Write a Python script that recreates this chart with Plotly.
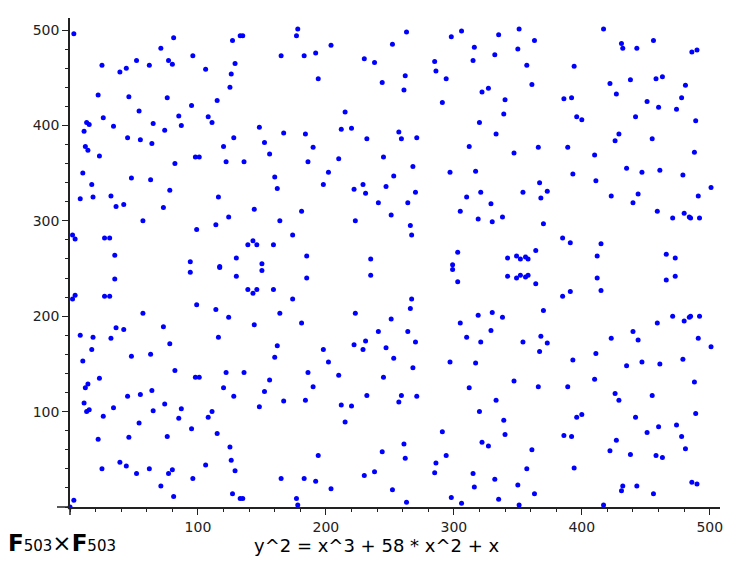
import plotly.graph_objects as go

# points, grouped by x band; upper/lower halves listed separately
x_left = [3, 81, 127, 133, 135, 71, 165, 25, 39, 44, 52, 62, 77, 80, 96, 106, 129, 126, 125, 22,
          46, 76, 95, 115, 54, 26, 85, 108, 13, 15, 11, 34, 65, 87, 111, 74, 148, 45, 55, 64,
          128, 152, 12, 14, 120, 156, 23, 98, 101, 82, 122, 136, 10, 48, 63, 160, 17, 78, 8, 18,
          32, 36, 42, 73, 116, 162, 144, 124, 57, 114, 164, 99, 2, 4, 27, 31, 139, 143, 146, 159,
          35, 130, 150, 94, 117]
y_left_upper = [496, 492, 489, 494, 494, 481, 473, 463, 456, 460, 468, 463, 468, 464, 473, 459, 465, 454, 440, 432,
                430, 429, 421, 426, 415, 408, 410, 409, 403, 401, 394, 399, 402, 400, 403, 395, 398, 387, 385, 381,
                387, 382, 378, 374, 378, 370, 368, 367, 367, 360, 362, 362, 350, 345, 343, 346, 338, 332, 323, 325,
                326, 315, 317, 314, 325, 334, 312, 304, 300, 296, 300, 291, 285, 281, 282, 282, 275, 279, 275, 275,
                264, 261, 255, 257, 252]
y_left_lower = [7, 11, 14, 9, 9, 22, 30, 40, 47, 43, 35, 40, 35, 39, 30, 44, 38, 49, 63, 71,
                73, 74, 82, 77, 88, 95, 93, 94, 100, 102, 109, 104, 101, 103, 100, 108, 105, 116, 118, 122,
                116, 121, 125, 129, 125, 133, 135, 136, 136, 143, 141, 141, 153, 158, 160, 157, 165, 171, 180, 178,
                177, 188, 186, 189, 178, 169, 191, 199, 203, 207, 203, 212, 218, 222, 221, 221, 228, 224, 228, 228,
                239, 242, 248, 246, 251]

x_mid = [178, 177, 263, 204, 183, 192, 252, 230, 238, 194, 244, 262, 261, 298, 306, 316, 315, 285, 286, 294,
         327, 322, 291, 215, 320, 167, 184, 212, 220, 232, 257, 259, 271, 190, 186, 210, 245, 202, 268, 253,
         312, 297, 317, 198, 229, 247, 222, 231, 270, 241, 264, 181, 251, 223, 266, 267, 174, 310, 321, 329,
         305, 319, 330, 185, 235, 303, 299]
y_mid_upper = [501, 494, 498, 484, 473, 476, 485, 470, 466, 449, 445, 452, 437, 493, 499, 482, 468, 467, 457, 449,
               439, 435, 424, 414, 403, 392, 391, 396, 397, 386, 393, 386, 387, 377, 362, 365, 367, 351, 357, 347,
               378, 351, 352, 338, 338, 336, 333, 329, 330, 319, 319, 310, 306, 300, 295, 285, 285, 325, 330, 318,
               310, 302, 299, 263, 260, 267, 254]
y_mid_lower = [2, 9, 5, 19, 30, 27, 18, 33, 37, 54, 58, 51, 66, 10, 4, 21, 35, 36, 46, 54,
               64, 68, 79, 89, 100, 111, 112, 107, 106, 117, 110, 117, 116, 126, 141, 138, 136, 152, 146, 156,
               125, 152, 151, 165, 165, 167, 170, 174, 173, 184, 184, 193, 197, 203, 208, 218, 218, 178, 173, 185,
               193, 201, 204, 240, 243, 236, 249]

x_right = [335, 351, 363, 350, 332, 357, 394, 417, 431, 432, 443, 456, 486, 490, 361, 340, 339, 333, 386, 392,
           396, 400, 422, 427, 438, 458, 463, 481, 478, 451, 460, 474, 442, 489, 429, 426, 455, 347, 366, 389,
           410, 488, 435, 447, 461, 479, 393, 367, 411, 501, 354, 368, 373, 423, 444, 440, 491, 338, 370, 459,
           471, 480, 484, 485, 492, 385, 391, 415, 412, 364, 342, 349, 352, 356, 358, 466, 473]
y_right_upper = [495, 501, 489, 480, 474, 463, 462, 501, 486, 481, 481, 489, 477, 479, 443, 427, 412, 391, 428, 429,
                 409, 406, 444, 433, 448, 449, 451, 442, 429, 425, 419, 417, 409, 405, 391, 384, 386, 371, 377, 377,
                 369, 372, 355, 351, 353, 348, 349, 340, 342, 335, 330, 324, 331, 326, 328, 319, 326, 304, 297, 310,
                 303, 308, 304, 303, 303, 282, 277, 276, 263, 269, 261, 263, 260, 262, 260, 265, 261]
y_right_lower = [8, 2, 14, 23, 29, 40, 41, 2, 17, 22, 22, 14, 26, 24, 60, 76, 91, 112, 75, 74,
                 94, 97, 59, 70, 55, 54, 52, 61, 74, 78, 84, 86, 94, 98, 112, 119, 117, 132, 126, 126,
                 134, 131, 148, 152, 150, 155, 154, 163, 161, 168, 173, 179, 172, 177, 175, 184, 177, 199, 206, 193,
                 200, 195, 199, 200, 200, 221, 226, 227, 240, 234, 242, 240, 243, 241, 243, 238, 242]

x_origin = [0]
y_origin = [0]

tick_vals = [100, 200, 300, 400, 500]

xs = x_origin + x_left + x_left + x_mid + x_mid + x_right + x_right
ys = (y_origin + y_left_upper + y_left_lower + y_mid_upper + y_mid_lower
      + y_right_upper + y_right_lower)

FONT = 'DejaVu Sans'

fig = go.Figure(go.Scatter(
    x=xs, y=ys, mode='markers',
    marker=dict(color='#0000ff', size=5, line=dict(width=0)),
    cliponaxis=False, showlegend=False, hoverinfo='x+y'
))

axis_style = dict(
    showgrid=False, zeroline=False,
    showline=True, linecolor='#222222', linewidth=1.5,
    ticks='outside', ticklen=6, tickwidth=1, tickcolor='#222222',
    tickvals=tick_vals,
    minor=dict(ticks='outside', ticklen=3, tickwidth=1, tickcolor='#222222', tick0=0, dtick=20),
    tickfont=dict(family=FONT, size=14, color='#222222'),
)

# the page body adds an 8px offset, so the figure is 8px smaller and margins shifted
fig.update_layout(
    width=742, height=553,
    margin=dict(l=62, r=30, t=10, b=54),
    plot_bgcolor='white', paper_bgcolor='white',
    xaxis=dict(range=[0, 508], **axis_style),
    yaxis=dict(range=[0, 512.6], **axis_style),
    font=dict(family=FONT, color='black'),
)

# short stubs of the axes past the origin, as in the original
fig.add_shape(type='line', xref='paper', yref='paper', x0=-13/650, x1=0, y0=0, y1=0,
              line=dict(color='#222222', width=1.5))
fig.add_shape(type='line', xref='paper', yref='paper', x0=0, x1=0, y0=-8/489, y1=0,
              line=dict(color='#222222', width=1.5))

# positions below are page pixels: plot area spans x 70..720, y 18..507
fig.add_annotation(
    text="<b>F</b><span style='font-size:15px'>503</span>×<b>F</b><span style='font-size:15px'>503</span>",
    xref='paper', yref='paper', x=(6 - 70) / 650, y=(507 - 543) / 489,
    xanchor='left', yanchor='middle', showarrow=False,
    font=dict(family=FONT, size=23, color='black')
)
fig.add_annotation(
    text='y^2 = x^3 + 58 * x^2 + x',
    xref='paper', yref='paper', x=(376 - 70) / 650, y=(507 - 545) / 489,
    xanchor='center', yanchor='middle', showarrow=False,
    font=dict(family=FONT, size=18, color='black')
)

fig.write_html('out.html')
